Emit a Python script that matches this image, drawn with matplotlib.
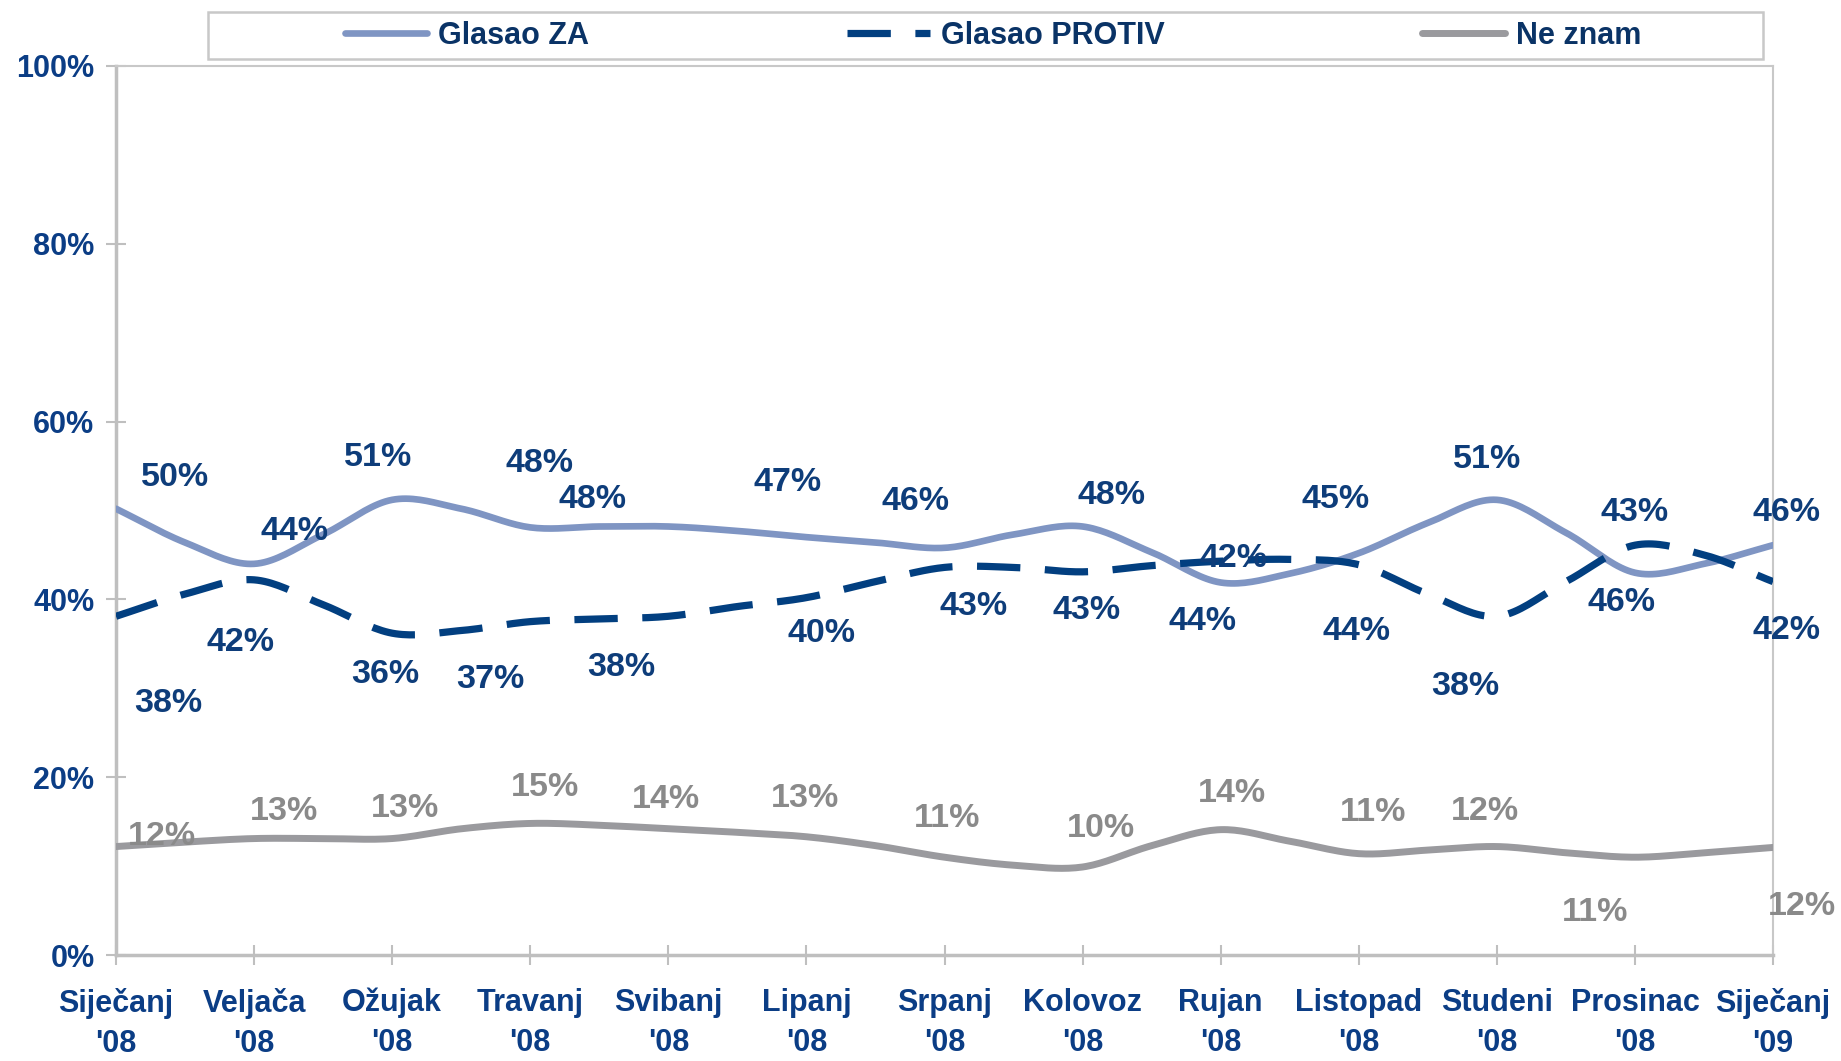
import numpy as np
import matplotlib
matplotlib.use("Agg")
import matplotlib.pyplot as plt
from matplotlib.patches import Rectangle
from matplotlib.lines import Line2D

plt.rcParams['font.family'] = ['Liberation Sans', 'DejaVu Sans']
plt.rcParams['font.weight'] = 'bold'

# ---------------- data ----------------
categories = ["Siječanj\n'08", "Veljača\n'08", "Ožujak\n'08", "Travanj\n'08", "Svibanj\n'08",
              "Lipanj\n'08", "Srpanj\n'08", "Kolovoz\n'08", "Rujan\n'08", "Listopad\n'08",
              "Studeni\n'08", "Prosinac\n'08", "Siječanj\n'09"]
series_names = ["Glasao ZA", "Glasao PROTIV", "Ne znam"]

# curve values read at half-month steps (0, 0.5, 1, ... 12)
za_curve = [50.2, 46.4, 44.0, 47.3, 51.2, 50.2, 48.1, 48.2, 48.2, 47.7, 47.0, 46.4, 45.8,
            47.3, 48.2, 45.3, 41.9, 42.9, 45.2, 48.6, 51.2, 47.5, 43.0, 44.0, 46.1]
protiv_curve = [38.1, 40.6, 42.2, 39.4, 36.2, 36.5, 37.5, 37.8, 38.1, 39.2, 40.2, 42.0, 43.6,
                43.6, 43.1, 43.8, 44.3, 44.5, 43.9, 40.6, 38.1, 42.0, 46.1, 45.0, 42.0]
neznam_curve = [12.2, 12.7, 13.1, 13.1, 13.1, 14.2, 14.8, 14.6, 14.2, 13.8, 13.3, 12.3, 11.0,
                10.1, 9.9, 12.3, 14.1, 12.8, 11.4, 11.8, 12.2, 11.5, 11.0, 11.5, 12.1]

# monthly data labels
za_labels = [50, 44, 51, 48, 48, 47, 46, 48, 42, 45, 51, 43, 46]
protiv_labels = [38, 42, 36, 37, 38, 40, 43, 43, 44, 44, 38, 46, 42]
neznam_labels = [12, 13, 13, 15, 14, 13, 11, 10, 14, 11, 12, 11, 12]

yticks = [0, 20, 40, 60, 80, 100]

# label placement (month index, percent)
za_label_pos = [(0.43, 53.7), (1.29, 47.6), (1.90, 56.0), (3.07, 55.3), (3.45, 51.2), (4.86, 53.2),
                (5.79, 51.0), (7.21, 51.7), (8.09, 44.6), (8.83, 51.2), (9.93, 55.7), (11.0, 49.8),
                (12.1, 49.8)]
protiv_label_pos = [(0.38, 28.3), (0.90, 35.1), (1.95, 31.5), (2.71, 31.0), (3.66, 32.3), (5.11, 36.2),
                    (6.21, 39.2), (7.03, 38.7), (7.87, 37.5), (8.98, 36.4), (9.77, 30.2), (10.9, 39.7),
                    (12.1, 36.5)]
neznam_label_pos = [(0.33, 13.3), (1.22, 16.1), (2.09, 16.5), (3.11, 18.8), (3.98, 17.5), (4.99, 17.6),
                    (6.02, 15.4), (7.13, 14.2), (8.08, 18.2), (9.10, 16.0), (9.91, 16.1), (10.71, 4.8),
                    (12.21, 5.4)]

# ---------------- styles ----------------
C_ZA = '#7F95C3'
C_PROTIV = '#023F80'
C_NEZ = '#9A9A9E'
C_LABEL = '#0E3D7A'
C_LABEL_GRAY = '#8A8A8A'
C_TICK = '#0B3D85'
C_AXIS = '#BFBFBF'


def catmull_rom(x, y, n=20):
    x = np.asarray(x, float)
    y = np.asarray(y, float)
    px = np.concatenate([[2 * x[0] - x[1]], x, [2 * x[-1] - x[-2]]])
    py = np.concatenate([[2 * y[0] - y[1]], y, [2 * y[-1] - y[-2]]])
    xs, ys = [], []
    t = np.linspace(0, 1, n, endpoint=False)
    for i in range(1, len(px) - 2):
        p0, p1, p2, p3 = py[i - 1], py[i], py[i + 1], py[i + 2]
        q0, q1, q2, q3 = px[i - 1], px[i], px[i + 1], px[i + 2]
        f = lambda a0, a1, a2, a3: 0.5 * ((2 * a1) + (-a0 + a2) * t +
                                         (2 * a0 - 5 * a1 + 4 * a2 - a3) * t ** 2 +
                                         (-a0 + 3 * a1 - 3 * a2 + a3) * t ** 3)
        xs.append(f(q0, q1, q2, q3))
        ys.append(f(p0, p1, p2, p3))
    xs.append([x[-1]])
    ys.append([y[-1]])
    return np.concatenate(xs), np.concatenate(ys)


fig = plt.figure(figsize=(18.41, 10.61), dpi=100)
ax = fig.add_axes([0.0630, 0.0999, 0.9001, 0.8379])

t_half = np.arange(len(za_curve)) / 2.0

xs, ys = catmull_rom(t_half, za_curve)
ax.plot(xs, ys, color=C_ZA, lw=4.8, solid_capstyle='round', zorder=3)
xs, ys = catmull_rom(t_half, protiv_curve)
ax.plot(xs, ys, color=C_PROTIV, lw=5.2, dashes=(6.0, 3.4), dash_capstyle='butt', zorder=3)
xs, ys = catmull_rom(t_half, neznam_curve)
ax.plot(xs, ys, color=C_NEZ, lw=5.0, solid_capstyle='round', zorder=3)

FS_LBL = 24.5
for vals, pos, col in [(za_labels, za_label_pos, C_LABEL),
                       (protiv_labels, protiv_label_pos, C_LABEL),
                       (neznam_labels, neznam_label_pos, C_LABEL_GRAY)]:
    for v, (px, py) in zip(vals, pos):
        ax.text(px, py, f"{v}%", ha='center', va='center', fontsize=FS_LBL,
                fontweight='bold', color=col, clip_on=False, zorder=4)

ax.set_xlim(0, 12)
ax.set_ylim(0, 100)
ax.set_xticks(np.arange(len(categories)))
ax.set_xticklabels(categories, fontsize=22, fontweight='bold', color=C_TICK, linespacing=1.45)
ax.set_yticks(yticks)
ax.set_yticklabels([f"{v}%" for v in yticks], fontsize=22, fontweight='bold', color=C_TICK)
ax.tick_params(axis='both', direction='inout', length=15, width=1.5, color=C_AXIS)
ax.tick_params(axis='x', pad=16)
ax.tick_params(axis='y', pad=8)
for side in ['top', 'right']:
    ax.spines[side].set_color('#C8C8C8')
    ax.spines[side].set_linewidth(1.5)
for side in ['left', 'bottom']:
    ax.spines[side].set_color(C_AXIS)
    ax.spines[side].set_linewidth(2.5)

# legend frame
fig.patches.append(Rectangle((208 / 1841, 1 - 59 / 1061), (1763 - 208) / 1841, 47 / 1061,
                             transform=fig.transFigure, facecolor='white',
                             edgecolor='#C8C8C8', lw=1.8, zorder=0))
handles = [Line2D([], [], color=C_ZA, lw=4.8, solid_capstyle='round'),
           Line2D([], [], color=C_PROTIV, lw=5.2, dashes=(6.0, 3.4), dash_capstyle='butt'),
           Line2D([], [], color=C_NEZ, lw=5.0, solid_capstyle='round')]
leg = fig.legend(handles, series_names, loc='center', bbox_to_anchor=(993 / 1841, 1 - 35.5 / 1061),
                 ncol=3, frameon=False, fontsize=22, handlelength=2.7, handletextpad=0.35,
                 columnspacing=8.45, borderpad=0.2)
for txt in leg.get_texts():
    txt.set_color('#0A3366')
    txt.set_fontweight('bold')

fig.savefig('out.png', dpi=100, facecolor='white')
